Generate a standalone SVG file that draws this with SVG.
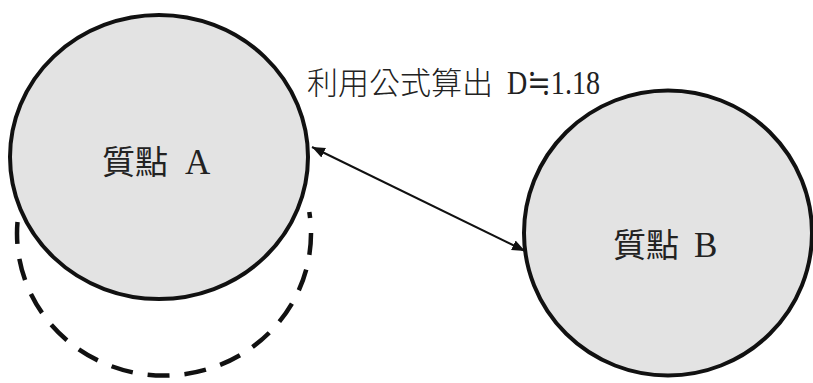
<svg xmlns="http://www.w3.org/2000/svg" width="813" height="383" viewBox="0 0 813 383">
  <style>
    .node { fill: #e3e3e3; stroke: #111; stroke-width: 4; }
    .dash { fill: none; stroke: #111; stroke-width: 4.5; stroke-dasharray: 22 15; }
    .conn { stroke: #111; stroke-width: 2; fill: none; }
    .cjk { font-family: "Noto Sans CJK TC", "Noto Sans CJK SC", sans-serif; fill: #222; }
    .lat { font-family: "Liberation Serif", "DejaVu Serif", serif; fill: #222; }
  </style>
  <defs>
    <marker id="ah" viewBox="0 0 10 10" refX="10" refY="5" markerWidth="6.5" markerHeight="6.5" orient="auto-start-reverse" markerUnits="strokeWidth">
      <path d="M0,1 L10,5 L0,9 Z" fill="#111"/>
    </marker>
  </defs>
  <rect width="813" height="383" fill="#ffffff"/>
  <g id="trail">
    <path class="dash" d="M 17.5 222 A 147 142 0 1 0 309.3 212"/>
  </g>
  <g id="node-a">
    <ellipse class="node" cx="159" cy="157" rx="149" ry="142"/>
    <text y="174" font-size="33"><tspan class="cjk" x="102">質點</tspan><tspan class="lat" x="185" font-size="35">A</tspan></text>
  </g>
  <g id="node-b">
    <ellipse class="node" cx="668" cy="233" rx="144" ry="142.5"/>
    <text y="257" font-size="33"><tspan class="cjk" x="613">質點</tspan><tspan class="lat" x="694" font-size="35">B</tspan></text>
  </g>
  <g id="connectors">
    <line class="conn" x1="312" y1="147" x2="525" y2="251" marker-start="url(#ah)" marker-end="url(#ah)"/>
  </g>
  <g id="label">
    <text y="94"><tspan class="cjk" x="307" font-size="31" font-weight="300">利用公式算出</tspan><tspan class="lat" x="507" font-size="34" textLength="93" lengthAdjust="spacingAndGlyphs">D≒1.18</tspan></text>
  </g>
</svg>
